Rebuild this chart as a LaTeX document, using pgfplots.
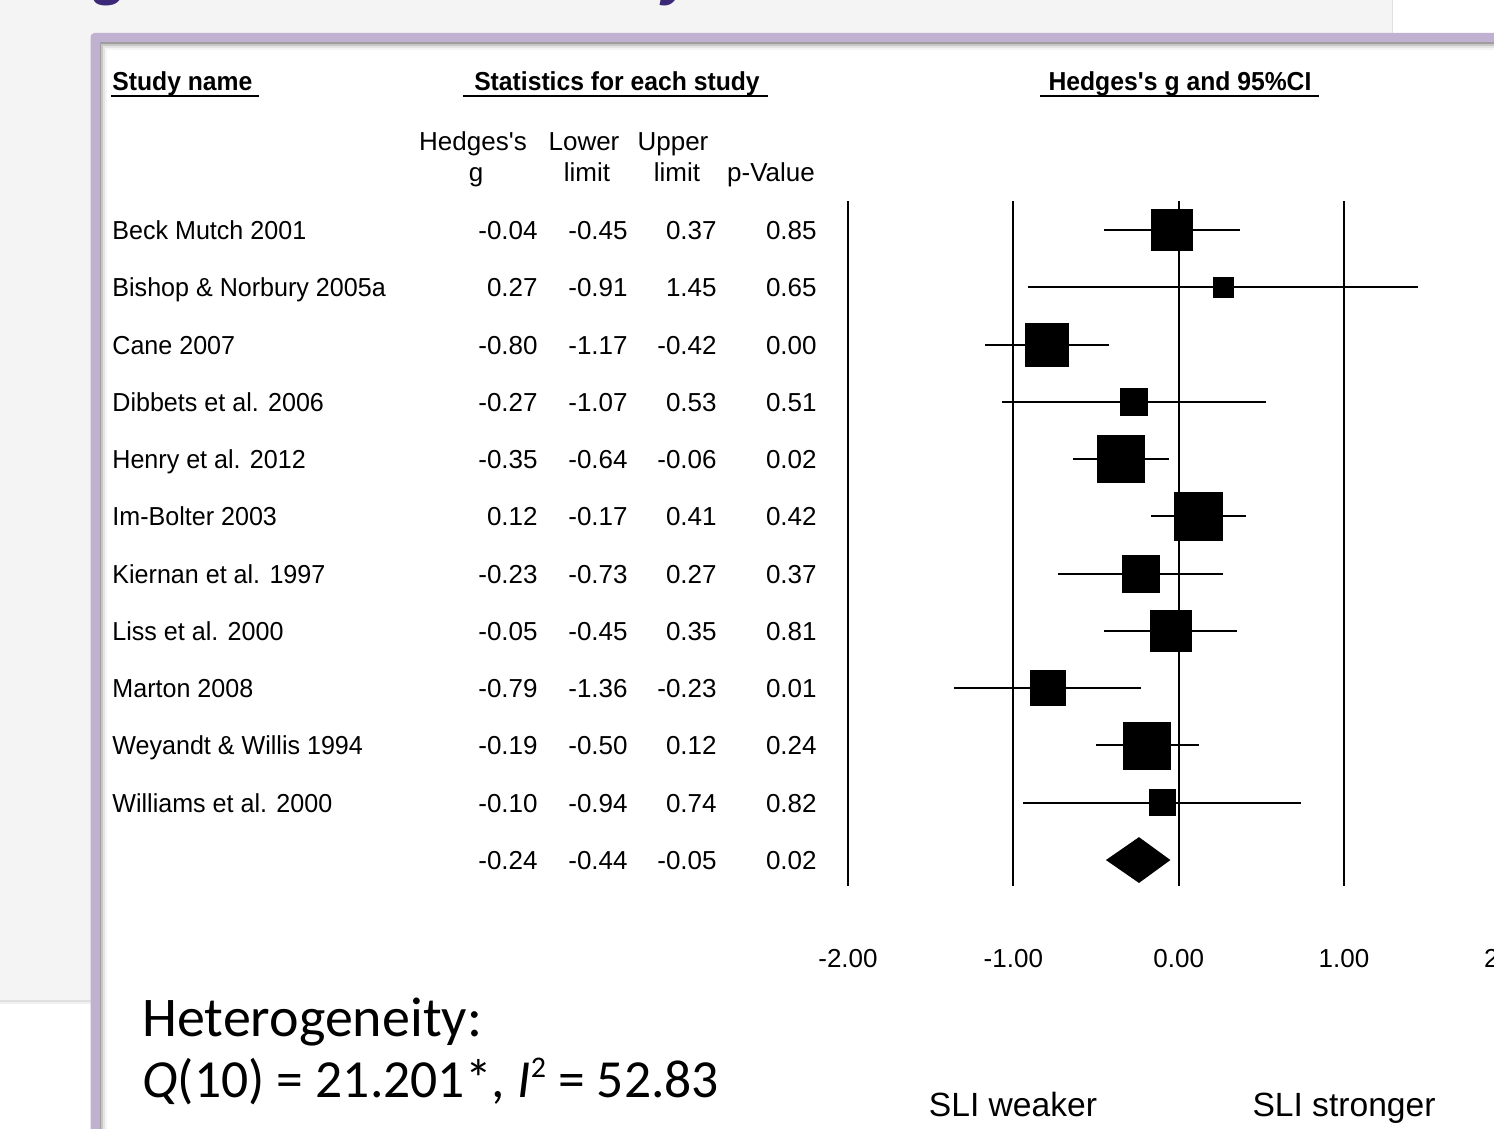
\documentclass[border=0pt]{standalone}
\usepackage{pgfplots}
\pgfplotsset{compat=1.18}
\usepackage{pgfplotstable}
\usepackage{fontspec}
\setmainfont{Liberation Sans}
\newfontfamily\tabfont{Liberation Sans}
\newfontfamily\namefont{Liberation Sans}[FakeStretch=0.965]
\newfontfamily\tabboldfam{Liberation Sans}[FakeStretch=0.95]
\newfontfamily\calfont{Carlito}
\definecolor{slidegray}{HTML}{F4F4F4}
\definecolor{framepurple}{HTML}{C1B1D1}
\definecolor{titlepurple}{HTML}{3B2877}

\pgfplotstableread{
y g lo hi s
1 -0.04 -0.45 0.37 41
2 0.27 -0.91 1.45 20
3 -0.80 -1.17 -0.42 43
4 -0.27 -1.07 0.53 27
5 -0.35 -0.64 -0.06 47
6 0.12 -0.17 0.41 48
7 -0.23 -0.73 0.27 37
8 -0.05 -0.45 0.35 41
9 -0.79 -1.36 -0.23 35
10 -0.19 -0.50 0.12 47
11 -0.10 -0.94 0.74 26
}\studies

\newcommand\tsz{\tabfont\fontsize{13}{15.6}\selectfont}
\newcommand\trow[6]{%
  \pgfmathsetmacro\yb{230+(#1-1)*57.27+9.5}%
  \node[anchor=base west, font=\namefont\fontsize{13}{15.6}\selectfont] at (112,\yb) {#2};
  \node[anchor=base east] at (538,\yb) {#3};
  \node[anchor=base east] at (628,\yb) {#4};
  \node[anchor=base east] at (717,\yb) {#5};
  \node[anchor=base east] at (817,\yb) {#6};
}

\begin{document}
\begin{tikzpicture}
\begin{scope}[x=0.5pt,y=-0.5pt]
\clip (0,0) rectangle (1494,1129);
\fill[white] (0,0) rectangle (1494,1129);
% slide grey box with soft shadow
\fill[black!6] (0,1000) rectangle (1396,1004);
\fill[black!12] (0,1000) rectangle (1394,1002);
\fill[slidegray] (0,0) rectangle (1392,1000);
\draw[black!12, line width=0.5pt] (1392.5,0) -- (1392.5,35);
% title fragments (cut off at the top)
\node[anchor=base, inner sep=0, font=\fontsize{30}{30}\selectfont\bfseries\itshape, text=titlepurple] at (112,-6) {g};
\node[anchor=base west, inner sep=0, font=\fontsize{30}{30}\selectfont\bfseries\itshape, text=titlepurple] at (662,-6) {y};
% picture frame
\fill[framepurple, rounded corners=2pt] (90.5,33) rectangle (1540,1180);
\fill[black!38] (99.5,42.5) rectangle (1540,1180);
\fill[black!22] (101,44) rectangle (1540,1180);
\fill[black!10] (103,46) rectangle (1540,1180);
\fill[black!4] (105,48) rectangle (1540,1180);
\fill[white] (107,50) rectangle (1540,1180);
\end{scope}

\begin{axis}[
  at={(424pt,-100.7pt)}, anchor=north west,
  scale only axis, width=330.67pt, height=342.2pt,
  xmin=-2, xmax=2, ymin=0.5, ymax=12.45, y dir=reverse,
  axis line style={draw=none}, major tick length=0pt,
  xtick={-2,-1,0,1,2}, ytick=\empty,
  xmajorgrids, major grid style={black, line width=1pt},
  /pgf/number format/assume math mode=true,
  xticklabel={\pgfmathprintnumber[fixed, fixed zerofill, precision=2]{\tick}},
  xticklabel style={anchor=base, inner sep=0pt, yshift=-41pt, font=\tabfont\fontsize{13}{16}\selectfont},
  clip=false,
]
\addplot[only marks, scatter, mark=square*,
  scatter/use mapped color={draw=black, fill=black},
  visualization depends on={\thisrow{s}/4 \as \msz},
  scatter/@pre marker code/.append style={/tikz/mark size=\msz, /tikz/line width=0.1pt},
  error bars/.cd, x dir=both, x explicit, error mark=none,
  error bar style={line width=1pt, black}]
  table[x=g, y=y,
        x error plus expr=\thisrow{hi}-\thisrow{g},
        x error minus expr=\thisrow{g}-\thisrow{lo}] {\studies};
\addplot[fill=black, draw=none] coordinates {(-0.44,12) (-0.24,11.6) (-0.05,12) (-0.24,12.4) (-0.44,12)};
\end{axis}

\begin{scope}[x=0.5pt,y=-0.5pt, every node/.style={inner sep=0pt, font=\tsz}]
% bold section headers
\node[anchor=base west, font=\tabboldfam\bfseries\fontsize{13}{15.6}\selectfont] at (112,91) {Study name};
\node[anchor=base, font=\tabboldfam\bfseries\fontsize{13}{15.6}\selectfont] at (617,91) {Statistics for each study};
\node[anchor=base, font=\tabboldfam\bfseries\fontsize{13}{15.6}\selectfont] at (1180,91) {Hedges\textquotesingle s g and 95\%CI};
\draw[black, line width=0.6pt] (111,96) -- (259,96);
\draw[black, line width=0.6pt] (463,96) -- (768,96);
\draw[black, line width=0.6pt] (1040,96) -- (1319,96);
% column headers
\node[anchor=base] at (473,150) {Hedges\textquotesingle s};
\node[anchor=base] at (476,181) {g};
\node[anchor=base] at (584,150) {Lower};
\node[anchor=base] at (587,181) {limit};
\node[anchor=base] at (673,150) {Upper};
\node[anchor=base] at (677,181) {limit};
\node[anchor=base] at (771,181) {p-Value};
% rows
\trow{1}{Beck Mutch 2001}{-0.04}{-0.45}{0.37}{0.85}
\trow{2}{Bishop \& Norbury 2005a}{0.27}{-0.91}{1.45}{0.65}
\trow{3}{Cane 2007}{-0.80}{-1.17}{-0.42}{0.00}
\trow{4}{Dibbets et al. 2006}{-0.27}{-1.07}{0.53}{0.51}
\trow{5}{Henry et al. 2012}{-0.35}{-0.64}{-0.06}{0.02}
\trow{6}{Im-Bolter 2003}{0.12}{-0.17}{0.41}{0.42}
\trow{7}{Kiernan et al. 1997}{-0.23}{-0.73}{0.27}{0.37}
\trow{8}{Liss et al. 2000}{-0.05}{-0.45}{0.35}{0.81}
\trow{9}{Marton 2008}{-0.79}{-1.36}{-0.23}{0.01}
\trow{10}{Weyandt \& Willis 1994}{-0.19}{-0.50}{0.12}{0.24}
\trow{11}{Williams et al. 2000}{-0.10}{-0.94}{0.74}{0.82}
\trow{12}{}{-0.24}{-0.44}{-0.05}{0.02}
% direction labels
\node[anchor=base, font=\fontsize{16.8}{19}\selectfont] at (1013,1116) {SLI weaker};
\node[anchor=base, font=\fontsize{16.8}{19}\selectfont] at (1344,1116) {SLI stronger};
% heterogeneity
\node[anchor=base west, font=\calfont\fontsize{28}{32}\selectfont] at (142,1036) {Heterogeneity:};
\node[anchor=base west, font=\calfont\fontsize{26.8}{32}\selectfont] at (142,1097) {\textit{Q}(10) = 21.201*, \textit{I}\raisebox{10pt}{\fontsize{15}{15}\selectfont 2} = 52.83};
\end{scope}
\pgfresetboundingbox
\useasboundingbox (0pt,0pt) rectangle (747pt,-564.5pt);
\end{tikzpicture}
\end{document}
